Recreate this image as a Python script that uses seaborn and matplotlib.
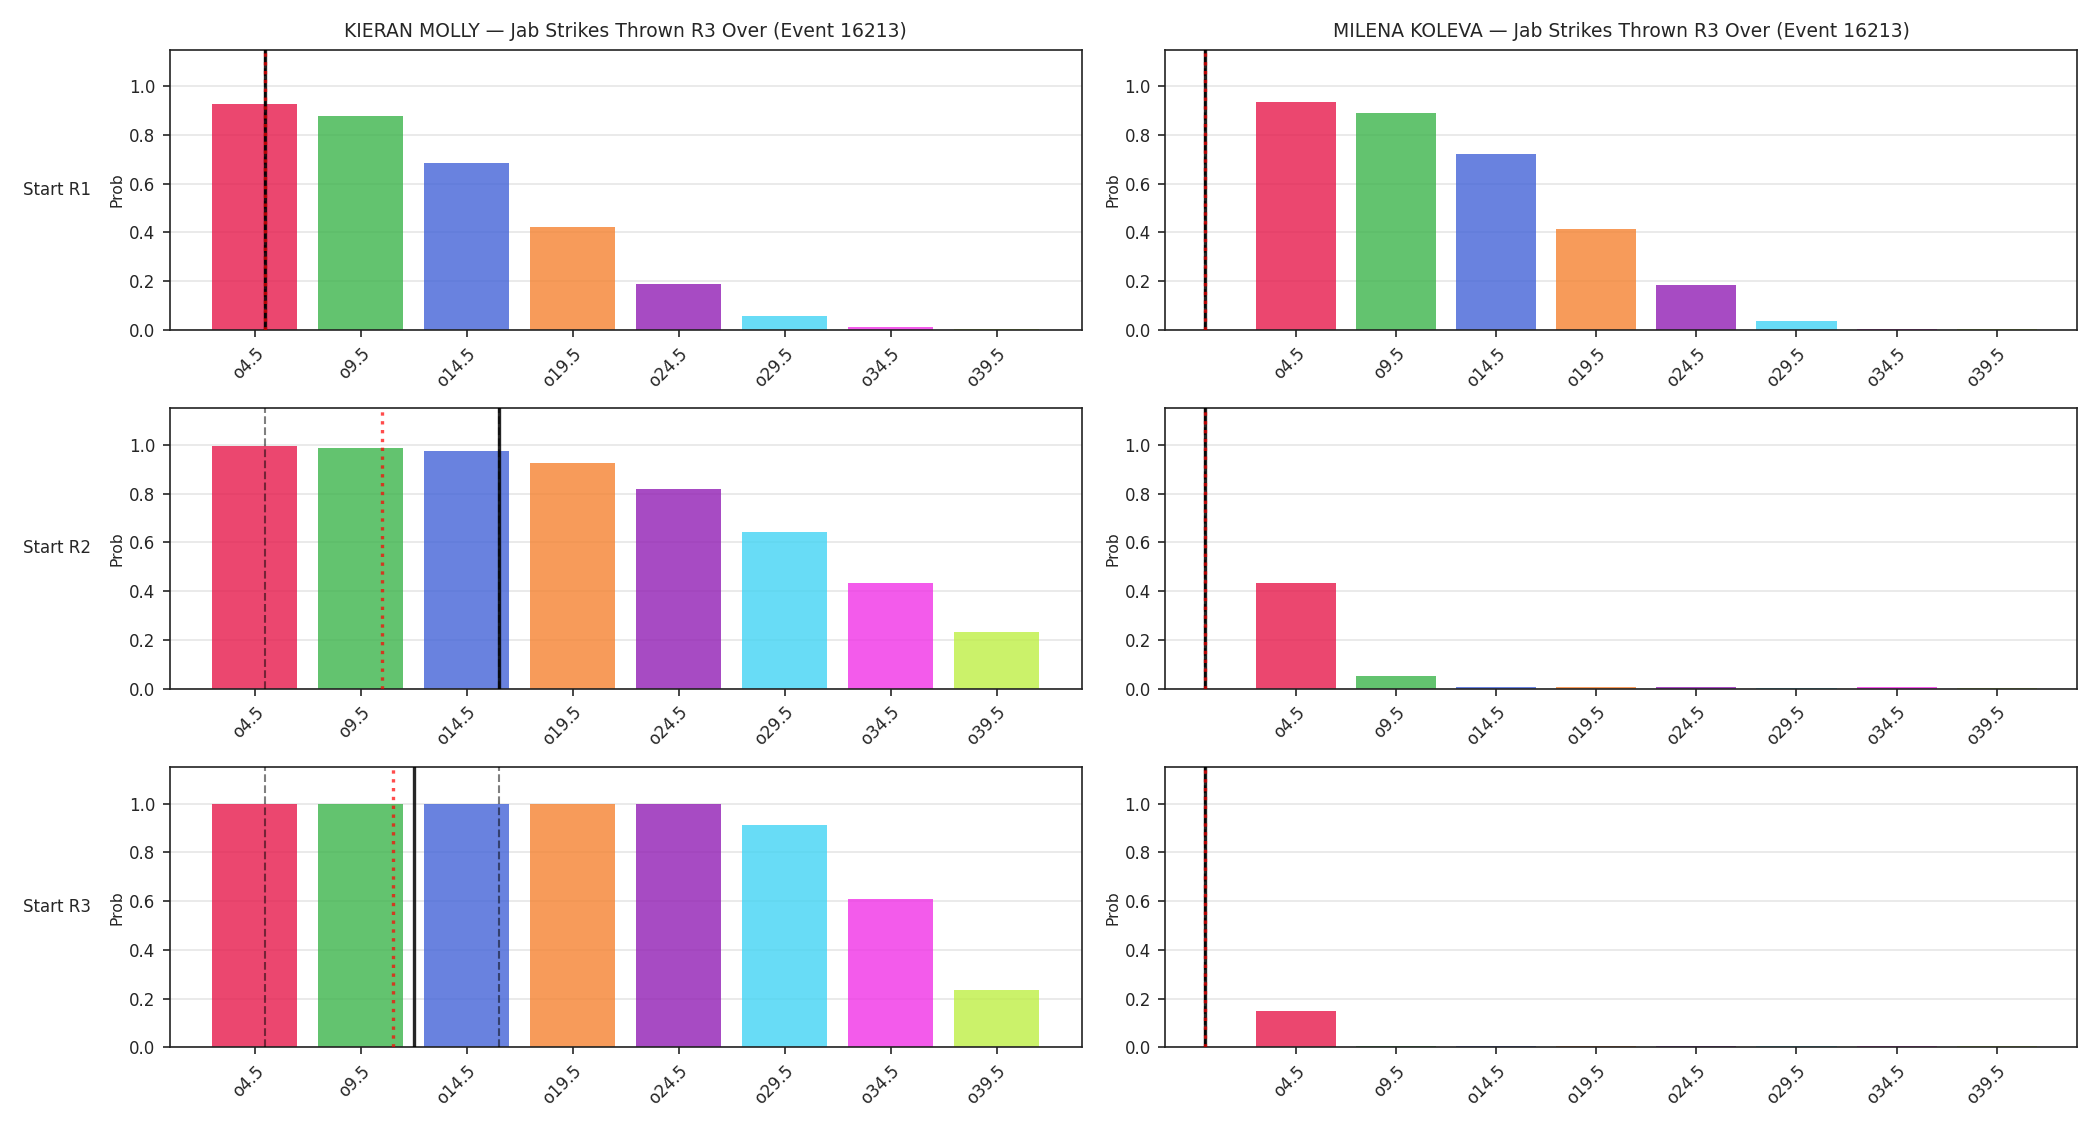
import numpy as np
import pandas as pd
import matplotlib
matplotlib.use("Agg")
import matplotlib.pyplot as plt
import seaborn as sns

sns.set_style("ticks")
plt.rcParams['font.family'] = ['DejaVu Sans']

lines_lbl = ['o4.5', 'o9.5', 'o14.5', 'o19.5', 'o24.5', 'o29.5', 'o34.5', 'o39.5']
palette = ['#e6194b', '#3cb44b', '#4363d8', '#f58231', '#911eb4', '#42d4f4', '#f032e6', '#bfef45']
rows = ['Start R1', 'Start R2', 'Start R3']
fighters = ['KIERAN MOLLY', 'MILENA KOLEVA']

# P(over) per line, one list per start round
molly_probs = [
    [0.927, 0.878, 0.685, 0.422, 0.188, 0.056, 0.010, 0.003],
    [0.996, 0.988, 0.975, 0.926, 0.820, 0.644, 0.434, 0.231],
    [0.999, 0.999, 0.999, 0.999, 0.999, 0.912, 0.610, 0.236],
]
koleva_probs = [
    [0.934, 0.890, 0.722, 0.414, 0.184, 0.036, 0.005, 0.003],
    [0.432, 0.052, 0.005, 0.005, 0.005, 0.004, 0.005, 0.004],
    [0.150, 0.005, 0.005, 0.005, 0.005, 0.004, 0.005, 0.004],
]

# reference markers in strikes: current count (black), mean (red), band (grey)
molly_current = [5, 16, 12]
molly_mean = [5, 10.5, 11]
molly_band = [(5, 5), (5, 16), (5, 16)]
koleva_current = [0, 0, 0]
koleva_mean = [0, 0, 0]
koleva_band = [(0, 0), (0, 0), (0, 0)]

probs = [molly_probs, koleva_probs]
current = [molly_current, koleva_current]
means = [molly_mean, koleva_mean]
bands = [molly_band, koleva_band]


def to_pos(v):
    # strike count -> position on the categorical line axis
    return (v - 4.5) / 5.0


fig, axes = plt.subplots(3, 2, figsize=(14, 7.5), dpi=150)
fig.subplots_adjust(left=0.081, right=0.989, bottom=0.069, top=0.956,
                    wspace=0.092, hspace=0.28)

for c in range(2):
    for r in range(3):
        ax = axes[r, c]
        df = pd.DataFrame({'line': lines_lbl, 'prob': probs[c][r]})
        sns.barplot(data=df, x='line', y='prob', hue='line', palette=palette,
                    legend=False, saturation=1, alpha=0.8, width=0.8,
                    linewidth=0, ax=ax)
        pc = to_pos(current[c][r])
        pm = to_pos(means[c][r])
        lo, hi = bands[c][r]
        ax.axvline(pc, color='black', lw=1.6, alpha=0.85, zorder=3)
        ax.axvline(pm, color='red', lw=1.6, ls=':', alpha=0.7, zorder=4)
        for b in (lo, hi):
            ax.axvline(to_pos(b), color='black', lw=1.0, ls='--', alpha=0.5, zorder=3)
        left = min(-0.4, pc, pm, to_pos(lo)) - 0.4
        ax.set_xlim(left, 7.8)
        ax.set_ylim(0, 1.15)
        ax.set_yticks([0.0, 0.2, 0.4, 0.6, 0.8, 1.0])
        ax.yaxis.grid(True, color='#e6e6e6', lw=0.8)
        ax.set_axisbelow(True)
        ax.set_xlabel('')
        ax.set_ylabel('Prob', fontsize=7.5, labelpad=2)
        ax.tick_params(axis='both', labelsize=8)
        for lab in ax.get_xticklabels():
            lab.set_rotation(45)
            lab.set_ha('right')
            lab.set_rotation_mode('anchor')
        for s in ax.spines.values():
            s.set_color('#222222')
        if r == 0:
            ax.set_title(f'{fighters[c]} — Jab Strikes Thrown R3 Over (Event 16213)', fontsize=9)
        if c == 0:
            pos = ax.get_position()
            fig.text(0.011, (pos.y0 + pos.y1) / 2, rows[r], fontsize=8,
                     ha='left', va='center')

fig.savefig('out.png', dpi=150)
